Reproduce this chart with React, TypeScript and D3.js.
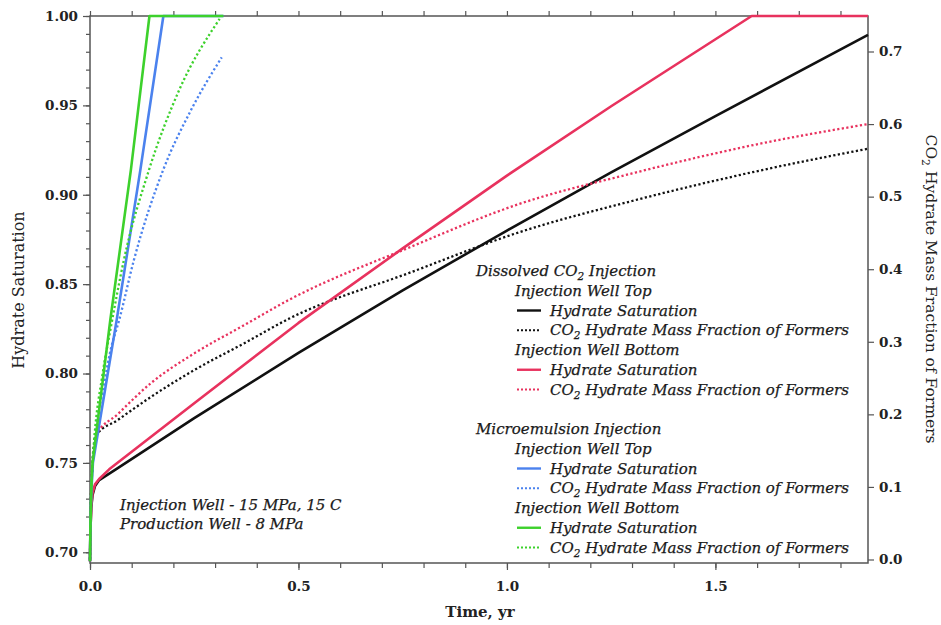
import React, { useRef, useEffect } from 'react';
import * as d3 from 'd3';

type Pt = [number, number];

// time (yr) vs hydrate saturation (left axis) / CO2 hydrate mass fraction (right axis)
const dissolvedTopSat: Pt[] = [[0, 0.695], [0.001, 0.712], [0.003, 0.725], [0.006, 0.732], [0.012, 0.737], [0.022, 0.7404], [0.062, 0.7464], [0.25, 0.775], [0.5, 0.8115], [0.75, 0.8465], [1.0, 0.88], [1.25, 0.9125], [1.5, 0.944], [1.866, 0.9894]];
const dissolvedTopFrac: Pt[] = [[0, 0], [0.002, 0.08], [0.006, 0.13], [0.0144, 0.171], [0.066, 0.192], [0.146, 0.224], [0.25, 0.261], [0.37, 0.298], [0.478, 0.332], [0.766, 0.395], [1.03, 0.451], [1.3, 0.494], [1.607, 0.536], [1.866, 0.566]];
const dissolvedBottomSat: Pt[] = [[0, 0.695], [0.001, 0.712], [0.003, 0.726], [0.006, 0.733], [0.012, 0.738], [0.022, 0.741], [0.046, 0.7464], [0.25, 0.7834], [0.5, 0.8283], [0.75, 0.87], [1.0, 0.9107], [1.25, 0.9495], [1.587, 1.0], [1.866, 1.0]];
const dissolvedBottomFrac: Pt[] = [[0, 0], [0.002, 0.08], [0.006, 0.13], [0.0144, 0.171], [0.066, 0.2], [0.146, 0.243], [0.25, 0.284], [0.37, 0.323], [0.478, 0.358], [0.766, 0.43], [1.03, 0.49], [1.3, 0.532], [1.607, 0.573], [1.866, 0.6]];
const microTopSat: Pt[] = [[0, 0.695], [0.001, 0.715], [0.003, 0.733], [0.007, 0.75], [0.064, 0.83], [0.1207, 0.9138], [0.176, 1.0], [0.32, 1.0]];
const microTopFrac: Pt[] = [[0, 0], [0.002, 0.07], [0.005, 0.12], [0.01, 0.16], [0.03, 0.23], [0.05, 0.29], [0.07, 0.33], [0.105, 0.412], [0.175, 0.536], [0.242, 0.619], [0.316, 0.692]];
const microBottomSat: Pt[] = [[0, 0.695], [0.001, 0.715], [0.003, 0.735], [0.006, 0.75], [0.0487, 0.83], [0.098, 0.9138], [0.1426, 1.0], [0.32, 1.0]];
const microBottomFrac: Pt[] = [[0, 0], [0.002, 0.075], [0.005, 0.125], [0.01, 0.165], [0.03, 0.255], [0.05, 0.32], [0.081, 0.412], [0.141, 0.536], [0.214, 0.647], [0.311, 0.745]];

const xTicks = [0, 0.5, 1.0, 1.5];
const leftTicks = [0.7, 0.75, 0.8, 0.85, 0.9, 0.95, 1.0];
const rightTicks = [0, 0.1, 0.2, 0.3, 0.4, 0.5, 0.6, 0.7];

const BLACK = '#111111';
const RED = '#e8325e';
const BLUE = '#4b82ee';
const GREEN = '#3dd12c';

const FONT = '"DejaVu Serif", serif';

const series = [
  { data: dissolvedTopSat, axis: 'left', color: BLACK, dotted: false },
  { data: dissolvedTopFrac, axis: 'right', color: BLACK, dotted: true },
  { data: dissolvedBottomSat, axis: 'left', color: RED, dotted: false },
  { data: dissolvedBottomFrac, axis: 'right', color: RED, dotted: true },
  { data: microTopSat, axis: 'left', color: BLUE, dotted: false },
  { data: microTopFrac, axis: 'right', color: BLUE, dotted: true },
  { data: microBottomSat, axis: 'left', color: GREEN, dotted: false },
  { data: microBottomFrac, axis: 'right', color: GREEN, dotted: true },
];

// legend rows: [indent level, text, color, dotted]
const legendRows: [number, string, string | null, boolean][] = [
  [0, 'Dissolved CO2 Injection', null, false],
  [1, 'Injection Well Top', null, false],
  [2, 'Hydrate Saturation', BLACK, false],
  [2, 'CO2 Hydrate Mass Fraction of Formers', BLACK, true],
  [1, 'Injection Well Bottom', null, false],
  [2, 'Hydrate Saturation', RED, false],
  [2, 'CO2 Hydrate Mass Fraction of Formers', RED, true],
  [0, '', null, false],
  [0, 'Microemulsion Injection', null, false],
  [1, 'Injection Well Top', null, false],
  [2, 'Hydrate Saturation', BLUE, false],
  [2, 'CO2 Hydrate Mass Fraction of Formers', BLUE, true],
  [1, 'Injection Well Bottom', null, false],
  [2, 'Hydrate Saturation', GREEN, false],
  [2, 'CO2 Hydrate Mass Fraction of Formers', GREEN, true],
];

// writes text, turning "CO2" into CO with a subscript 2
const addText = (sel: any, str: string) => {
  const parts = str.split('CO2');
  parts.forEach((p, i) => {
    if (i > 0) {
      sel.append('tspan').text('CO');
      sel.append('tspan').attr('dy', 4).attr('font-size', '0.7em').text('2');
      sel.append('tspan').attr('dy', -4).text(p);
    } else if (p) {
      sel.append('tspan').text(p);
    }
  });
};

const Chart = ({ width, height }: { width: number; height: number }) => {
  const ref = useRef<SVGSVGElement>(null);

  useEffect(() => {
    const svg = d3.select(ref.current);
    svg.selectAll('*').remove();

    const left = 90, right = 868, top = 16, bottom = 563;
    const x = d3.scaleLinear().domain([0, 1.866]).range([left, right]);
    const yL = d3.scaleLinear().domain([0.694, 1.0]).range([bottom, top]);
    const yR = d3.scaleLinear().domain([0, 0.7]).range([559.5, 51.5]);

    const axisColor = '#555';

    // minor ticks
    const minorX = d3.range(0, 1.87, 0.1);
    const minorL = d3.range(0.7, 1.001, 0.01);
    svg.append('g').attr('transform', `translate(0,${bottom})`)
      .call(d3.axisBottom(x).tickValues(minorX).tickSize(5).tickSizeOuter(0).tickFormat(() => ''));
    svg.append('g').attr('transform', `translate(0,${top})`)
      .call(d3.axisTop(x).tickValues(minorX).tickSize(5).tickSizeOuter(0).tickFormat(() => ''));
    svg.append('g').attr('transform', `translate(${left},0)`)
      .call(d3.axisLeft(yL).tickValues(minorL).tickSize(4).tickSizeOuter(0).tickFormat(() => ''));

    // major ticks with labels
    const gx = svg.append('g').attr('transform', `translate(0,${bottom})`)
      .call(d3.axisBottom(x).tickValues(xTicks).tickSize(7).tickSizeOuter(0).tickPadding(11).tickFormat(d3.format('.1f')));
    const gl = svg.append('g').attr('transform', `translate(${left},0)`)
      .call(d3.axisLeft(yL).tickValues(leftTicks).tickSize(7).tickSizeOuter(0).tickPadding(5).tickFormat(d3.format('.2f')));
    const gr = svg.append('g').attr('transform', `translate(${right},0)`)
      .call(d3.axisRight(yR).tickValues(rightTicks).tickSize(6).tickSizeOuter(0).tickPadding(5).tickFormat(d3.format('.1f')));

    svg.selectAll('.domain').remove();
    svg.selectAll('.tick line').attr('stroke', axisColor).attr('stroke-width', 1.2);
    [gx, gl, gr].forEach((g) => g.selectAll('text')
      .attr('font-family', FONT).attr('font-weight', 'bold').attr('font-size', 13.5).attr('fill', '#222'));

    svg.append('rect')
      .attr('x', left).attr('y', top)
      .attr('width', right - left).attr('height', bottom - top)
      .attr('fill', 'none').attr('stroke', axisColor).attr('stroke-width', 1.5);

    // series
    series.forEach((s) => {
      const yS = s.axis === 'left' ? yL : yR;
      const line = d3.line<Pt>()
        .x((d) => x(d[0]))
        .y((d) => yS(d[1]))
        .curve(s.dotted ? d3.curveMonotoneX : d3.curveLinear);
      svg.append('path')
        .attr('d', line(s.data))
        .attr('fill', 'none')
        .attr('stroke', s.color)
        .attr('stroke-width', s.dotted ? 2.3 : 2.6)
        .attr('stroke-dasharray', s.dotted ? '2.2,2.4' : null)
        .attr('stroke-linejoin', 'round');
    });

    // axis titles
    svg.append('text')
      .attr('x', 480).attr('y', 617)
      .attr('text-anchor', 'middle')
      .attr('font-family', FONT).attr('font-weight', 'bold').attr('font-size', 15).attr('fill', '#222')
      .text('Time, yr');
    svg.append('text')
      .attr('transform', 'translate(24,290) rotate(-90)')
      .attr('text-anchor', 'middle')
      .attr('font-family', FONT).attr('font-size', 16).attr('fill', '#222')
      .text('Hydrate Saturation');
    const rt = svg.append('text')
      .attr('transform', 'translate(926,289) rotate(90)')
      .attr('text-anchor', 'middle')
      .attr('font-family', FONT).attr('font-size', 15.5).attr('fill', '#222');
    addText(rt, 'CO2 Hydrate Mass Fraction of Formers');

    // legend
    const lg = svg.append('g').attr('font-family', FONT).attr('font-style', 'italic').attr('font-size', 15)
      .attr('fill', '#1a1a1a').attr('stroke', '#1a1a1a').attr('stroke-width', 0.25);
    const indents = [476, 515, 550];
    legendRows.forEach(([lvl, label, color, dotted], i) => {
      const yy = 276 + i * 19.75;
      if (!label) return;
      const t = lg.append('text').attr('x', indents[lvl]).attr('y', yy);
      addText(t, label);
      if (color) {
        lg.append('line')
          .attr('x1', 517).attr('x2', 541).attr('y1', yy - 5).attr('y2', yy - 5)
          .attr('stroke', color).attr('stroke-width', dotted ? 1.8 : 2.4)
          .attr('stroke-dasharray', dotted ? '2,2' : null);
      }
    });

    // annotation
    const ann = svg.append('g').attr('font-family', FONT).attr('font-style', 'italic').attr('font-size', 15)
      .attr('fill', '#1a1a1a').attr('stroke', '#1a1a1a').attr('stroke-width', 0.25);
    ann.append('text').attr('x', 120).attr('y', 510).text('Injection Well - 15 MPa, 15 C');
    ann.append('text').attr('x', 120).attr('y', 529).text('Production Well - 8 MPa');
  }, []);

  return <svg ref={ref} width={width} height={height} style={{ display: 'block', background: '#fff' }} />;
};

export default function App() {
  return (
    <div style={{ position: 'absolute', left: 0, top: 0 }}>
      <Chart width={941} height={625} />
    </div>
  );
}
